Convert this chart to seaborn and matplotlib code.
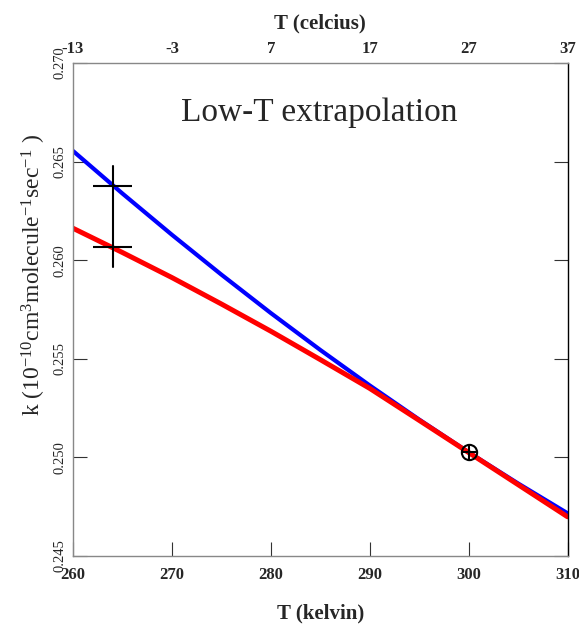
import matplotlib
matplotlib.use("Agg")
import matplotlib.pyplot as plt
import seaborn as sns
import pandas as pd

# Data
temp_T = [260, 265, 270, 275, 280, 285, 290, 295, 300, 305, 310]
blue_k = [0.26554, 0.26338, 0.26129, 0.25927, 0.25732, 0.25545,
          0.25365, 0.25192, 0.25026, 0.24868, 0.24717]
red_k = [0.26162, 0.26039, 0.25912, 0.25778, 0.25640, 0.25496,
         0.25350, 0.25188, 0.25025, 0.24862, 0.24699]
err_x = [264.0, 264.0]
err_y = [0.26378, 0.26068]
err_bar_lo = 0.25967
err_bar_hi = 0.26478
err_xerr = 1.95
ref_x = [300.0]
ref_y = [0.25025]
kelvin_ticks = [260, 270, 280, 290, 300, 310]
celsius_labels = ["-13", "-3", "7", "17", "27", "37"]
y_ticks = [0.245, 0.250, 0.255, 0.260, 0.265, 0.270]

sns.set_style("white")
plt.rcParams['font.family'] = ['Liberation Serif', 'DejaVu Serif']
plt.rcParams['mathtext.fontset'] = 'custom'
plt.rcParams['mathtext.rm'] = 'Liberation Serif'
plt.rcParams['mathtext.it'] = 'Liberation Serif:italic'
plt.rcParams['mathtext.bf'] = 'Liberation Serif:bold'

W, H = 579, 625
fig = plt.figure(figsize=(W / 100, H / 100), dpi=100)
ax = fig.add_axes([73 / W, 1 - 556 / H, (567.5 - 73) / W, (556 - 63) / H])

df = pd.DataFrame({"T": temp_T * 2, "k": blue_k + red_k,
                   "model": ["blue"] * len(temp_T) + ["red"] * len(temp_T)})
sns.lineplot(data=df[df.model == "blue"], x="T", y="k", color="#0000ff", lw=3.0,
             ax=ax, legend=False)
sns.lineplot(data=df[df.model == "red"], x="T", y="k", color="#ff0000", lw=3.6,
             ax=ax, legend=False)

# error crosses
ax.errorbar(err_x, err_y, xerr=err_xerr, fmt="none", ecolor="black", lw=1.5, capsize=0)
ax.plot([err_x[0], err_x[0]], [err_bar_lo, err_bar_hi], color="black", lw=1.5)

# reference point: circle with plus
ax.plot(ref_x, ref_y, marker="o", ms=11, mfc="none", mec="black", mew=1.5, ls="none")
ax.plot(ref_x, ref_y, marker="+", ms=11, mec="black", mew=1.5, ls="none")

ax.set_xlim(260, 310)
ax.set_ylim(0.245, 0.270)
ax.set_xticks(kelvin_ticks)
ax.set_xticklabels([str(t) for t in kelvin_ticks], fontsize=12, fontweight="bold")
ax.set_yticks(y_ticks)
ax.set_yticklabels([f"{v:.3f}" for v in y_ticks], fontsize=10.5, rotation=90, va="center")
ax.tick_params(axis="both", direction="in", length=10, width=0.8, color="#333333",
               top=False, right=True, left=True, bottom=True)
ax.tick_params(axis="x", pad=8)
ax.tick_params(axis="y", pad=5)
for name, s in ax.spines.items():
    s.set_color("#888888" if name != "right" else "black")
    s.set_linewidth(1.0)

ax.set_xlabel("T (kelvin)", fontsize=15, fontweight="bold", labelpad=15)
ax.set_ylabel("k (10$^{-10}$cm$^{3}$molecule$^{-1}$sec$^{-1}$ )", fontsize=17)
ax.yaxis.set_label_coords(-0.05, 0.57)

top = ax.secondary_xaxis("top")
top.set_xticks(kelvin_ticks)
top.set_xticklabels(celsius_labels, fontsize=12, fontweight="bold")
top.tick_params(direction="in", length=0, pad=4)
top.spines["top"].set_visible(False)
top.set_xlabel("T (celcius)", fontsize=15, fontweight="bold", labelpad=9)

ax.text(284.9, 0.26746, "Low-T extrapolation", fontsize=24, ha="center", va="center")

fig.savefig("out.png", dpi=100)
